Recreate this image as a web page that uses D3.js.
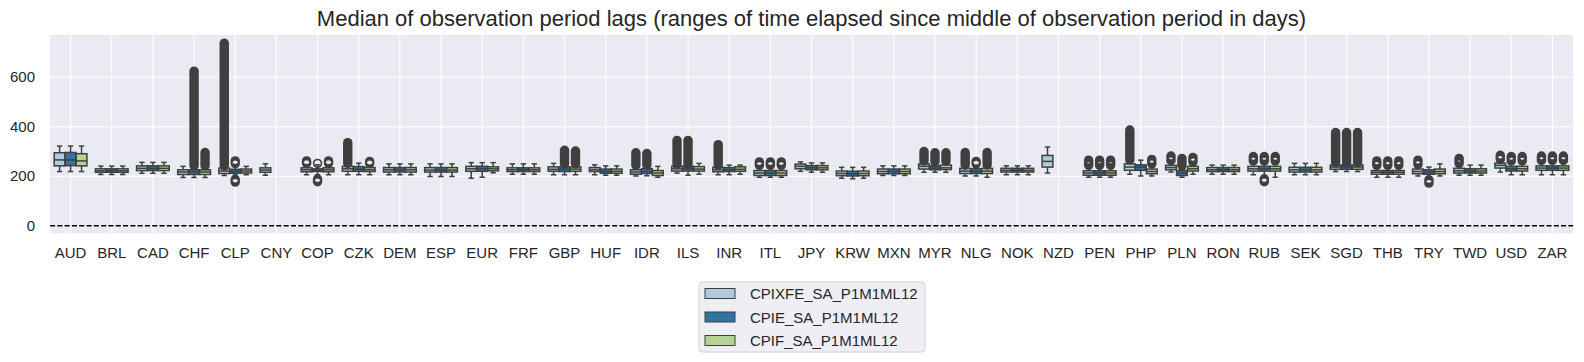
<!DOCTYPE html>
<html>
<head>
<meta charset="utf-8">
<script src="https://cdn.jsdelivr.net/npm/d3@7"></script>
<style>
  body { margin: 0; background: #fff; }
  text { font-family: "Liberation Sans", Arial, sans-serif; fill: #262626; }
</style>
</head>
<body>
<svg id="chart" width="1584" height="362"></svg>
<script>
const categories = ['AUD','BRL','CAD','CHF','CLP','CNY','COP','CZK','DEM','ESP','EUR','FRF','GBP','HUF','IDR','ILS','INR','ITL','JPY','KRW','MXN','MYR','NLG','NOK','NZD','PEN','PHP','PLN','RON','RUB','SEK','SGD','THB','TRY','TWD','USD','ZAR'];
const seriesNames = ['CPIXFE_SA_P1M1ML12', 'CPIE_SA_P1M1ML12', 'CPIF_SA_P1M1ML12'];
const seriesColors = ['#aeccdb', '#3274a1', '#b3d495'];
const yTicks = [0, 200, 400, 600];

// [low whisker, q1, median, q3, high whisker] per category, null = no data
const cpixfeBoxes = [
  [219,242,266,295,322], [207,216,222,230,241], [212,223,232,242,256], [195,207,217,226,240],
  [203,211,221,233,240], [204,216,225,234,250], [206,218,226,234,246], [206,220,230,240,250],
  [206,217,226,235,250], [199,217,225,235,250], [192,220,230,240,255], [208,219,226,234,250],
  [206,220,228,238,252], [206,219,226,235,246], [201,208,217,226,238], [213,221,230,240,246],
  [206,218,226,236,244], [196,203,213,223,238], [220,230,240,249,258], [192,202,211,221,236],
  [203,210,219,229,242], [216,229,240,250,258], [201,211,221,232,240], [206,217,224,232,242],
  [213,237,260,284,318], [196,204,213,222,236], [208,224,237,250,262], [217,226,235,244,256],
  [208,219,226,235,245], [206,221,230,240,252], [206,217,226,236,252], [219,228,237,245,252],
  [196,208,216,223,238], [201,210,219,229,240], [204,213,222,232,243], [217,233,244,253,262],
  [206,224,233,242,255]
];
const cpieBoxes = [
  [219,243,266,296,322], [207,216,222,230,241], [212,223,232,242,256], [195,207,217,226,240],
  [205,212,220,228,242], null, [206,219,224,230,246], [206,220,229,239,253],
  [206,217,226,235,250], [199,217,225,235,250], [196,220,230,240,255], [208,219,226,234,250],
  [206,219,228,238,245], [204,212,220,229,242], [202,211,219,231,240], [204,221,230,240,246],
  [206,219,226,235,245], [196,203,213,223,238], [216,226,234,243,254], [190,201,210,220,236],
  [203,210,219,229,242], [216,226,233,242,252], [201,211,220,230,242], [206,217,224,232,242],
  null, [196,204,213,222,236], [201,224,237,246,265], [196,203,213,223,236],
  [208,219,226,235,245], [200,221,230,240,252], [206,217,226,236,252], [219,228,237,245,252],
  [196,208,216,223,238], [198,208,217,226,237], [204,213,221,230,245], [206,221,230,240,252],
  [206,224,233,242,255]
];
const cpifBoxes = [
  [219,242,262,291,322], [207,216,222,230,241], [212,223,232,242,256], [195,207,217,226,240],
  [206,213,221,229,240], null, [206,218,226,234,246], [206,219,226,235,245],
  [206,217,226,235,250], [199,217,225,235,250], [214,222,230,238,255], [208,219,226,234,250],
  [206,220,229,238,245], [204,212,220,229,242], [196,203,213,223,240], [208,221,229,239,252],
  [208,220,228,238,245], [196,203,213,223,238], [216,226,234,243,254], [192,202,211,221,236],
  [203,210,219,229,242], [216,227,234,245,255], [196,211,221,232,240], [206,217,224,232,242],
  null, [196,204,213,222,236], [201,210,219,229,242], [208,221,230,240,250],
  [208,219,226,235,245], [196,221,230,240,252], [206,217,226,236,252], [219,228,237,245,252],
  [196,208,216,223,238], [201,210,219,229,250], [204,213,221,230,245], [206,221,230,240,252],
  [206,224,233,242,255]
];

// isolated single outliers
const cpixfeOutliers = {};
const cpieOutliers = {COP: [252]};
const cpifOutliers = {};

// dense clusters of outliers, [lowest, highest] per cluster
const cpixfeOutlierRuns = {
  CLP: [[242,738]], CZK: [[252,336]], IDR: [[244,295]], ILS: [[248,345]], INR: [[245,328]],
  MYR: [[262,300]], NLG: [[245,296]], PHP: [[266,387]], SGD: [[255,377]], COP: [[252,262]],
  ITL: [[244,258]], PEN: [[244,265]], PLN: [[263,282]], RUB: [[262,280]], THB: [[244,262]],
  TRY: [[247,265]], TWD: [[251,272]], USD: [[268,285]], ZAR: [[264,282]]
};
const cpieOutlierRuns = {
  CHF: [[242,625]], GBP: [[250,305]], IDR: [[245,292]], ILS: [[248,345]], MYR: [[258,295]],
  SGD: [[255,377]], CLP: [[251,262],[176,187]], COP: [[178,189]], ITL: [[244,258]],
  NLG: [[250,260]], PEN: [[244,265]], PLN: [[242,272]], RUB: [[262,280],[178,190]],
  THB: [[244,262]], TRY: [[172,186]], USD: [[262,280]], ZAR: [[264,282]]
};
const cpifOutlierRuns = {
  CHF: [[242,296]], GBP: [[250,302]], MYR: [[260,295]], NLG: [[245,296]], SGD: [[255,377]],
  CZK: [[251,260]], COP: [[252,262]], ITL: [[244,258]], PEN: [[244,265]], PHP: [[250,268]],
  PLN: [[258,276]], RUB: [[262,280]], THB: [[244,262]], USD: [[262,280]], ZAR: [[264,282]]
};

const boxes = [cpixfeBoxes, cpieBoxes, cpifBoxes];
const outliers = [cpixfeOutliers, cpieOutliers, cpifOutliers];
const runs = [cpixfeOutlierRuns, cpieOutlierRuns, cpifOutlierRuns];

const lineColor = '#3f3f3f';
const bgColor = '#eaeaf2';
const plot = {left: 50, right: 1573, top: 35, bottom: 233.3};
const markerR = 3.9;
const markerStroke = 1.6;
const rIn = markerR - markerStroke / 2;
const rOut = markerR + markerStroke / 2;

const svg = d3.select('#chart');

const x = d3.scaleBand().domain(categories).range([plot.left, plot.right]);
const y = d3.scaleLinear().domain([-30.7, 771]).range([plot.bottom, plot.top]);
const hue = d3.scaleBand().domain(seriesNames).range([0, x.bandwidth() * 0.8]);
const boxW = hue.bandwidth() * 0.98;

svg.append('rect')
  .attr('x', plot.left).attr('y', plot.top)
  .attr('width', plot.right - plot.left).attr('height', plot.bottom - plot.top)
  .attr('fill', bgColor);

// grid
svg.append('g')
  .selectAll('line')
  .data(yTicks)
  .enter().append('line')
  .attr('x1', plot.left).attr('x2', plot.right)
  .attr('y1', (d) => y(d)).attr('y2', (d) => y(d))
  .attr('stroke', '#fff').attr('stroke-width', 1.1);

svg.append('g')
  .selectAll('line')
  .data(categories)
  .enter().append('line')
  .attr('x1', (d) => x(d) + x.bandwidth() / 2).attr('x2', (d) => x(d) + x.bandwidth() / 2)
  .attr('y1', plot.top).attr('y2', plot.bottom)
  .attr('stroke', '#fff').attr('stroke-width', 1.1);

// tick labels
svg.append('g')
  .selectAll('text')
  .data(yTicks)
  .enter().append('text')
  .attr('x', 35).attr('y', (d) => y(d) + 5)
  .attr('text-anchor', 'end')
  .style('font-size', '15px')
  .text((d) => d);

svg.append('g')
  .selectAll('text')
  .data(categories)
  .enter().append('text')
  .attr('x', (d) => x(d) + x.bandwidth() / 2).attr('y', 258)
  .attr('text-anchor', 'middle')
  .style('font-size', '15px')
  .text((d) => d);

// boxes
const marks = svg.append('g');
seriesNames.forEach((name, s) => {
  categories.forEach((cat, i) => {
    const d = boxes[s][i];
    if (!d) return;
    const cx = x(cat) + x.bandwidth() * 0.1 + hue(name) + hue.bandwidth() / 2;
    const g = marks.append('g');

    g.append('line')
      .attr('x1', cx).attr('x2', cx).attr('y1', y(d[0])).attr('y2', y(d[1]))
      .attr('stroke', lineColor).attr('stroke-width', 1.5);
    g.append('line')
      .attr('x1', cx).attr('x2', cx).attr('y1', y(d[3])).attr('y2', y(d[4]))
      .attr('stroke', lineColor).attr('stroke-width', 1.5);
    [d[0], d[4]].forEach((v) => {
      g.append('line')
        .attr('x1', cx - boxW / 4).attr('x2', cx + boxW / 4)
        .attr('y1', y(v)).attr('y2', y(v))
        .attr('stroke', lineColor).attr('stroke-width', 1.5);
    });
    g.append('rect')
      .attr('x', cx - boxW / 2).attr('y', y(d[3]))
      .attr('width', boxW).attr('height', y(d[1]) - y(d[3]))
      .attr('fill', seriesColors[s])
      .attr('stroke', lineColor).attr('stroke-width', 1.5);
    g.append('line')
      .attr('x1', cx - boxW / 2).attr('x2', cx + boxW / 2)
      .attr('y1', y(d[2])).attr('y2', y(d[2]))
      .attr('stroke', lineColor).attr('stroke-width', 1.5);

    (runs[s][cat] || []).forEach((run) => {
      const yTop = y(run[1]);
      const yBot = y(run[0]);
      g.append('line')
        .attr('x1', cx).attr('x2', cx).attr('y1', yTop).attr('y2', yBot)
        .attr('stroke', lineColor).attr('stroke-width', rOut * 2)
        .attr('stroke-linecap', 'round');
      // hollow left where the end markers' insides overlap
      const half = (yBot - yTop) / 2;
      if (half < rIn) {
        const w = Math.sqrt(rIn * rIn - half * half);
        const ym = yTop + half;
        g.append('path')
          .attr('d', `M${cx - w},${ym}A${rIn},${rIn} 0 0 1 ${cx + w},${ym}A${rIn},${rIn} 0 0 1 ${cx - w},${ym}Z`)
          .attr('fill', bgColor);
      }
    });
    g.selectAll('circle')
      .data(outliers[s][cat] || [])
      .enter().append('circle')
      .attr('cx', cx).attr('cy', (v) => y(v)).attr('r', markerR)
      .attr('fill', 'none')
      .attr('stroke', lineColor).attr('stroke-width', markerStroke);
  });
});

// zero line
svg.append('line')
  .attr('x1', plot.left).attr('x2', plot.right)
  .attr('y1', y(0)).attr('y2', y(0))
  .attr('stroke', '#000').attr('stroke-width', 1.4)
  .attr('stroke-dasharray', '5.1,2.2');

svg.append('text')
  .attr('x', (plot.left + plot.right) / 2).attr('y', 26)
  .attr('text-anchor', 'middle')
  .style('font-size', '22px')
  .text('Median of observation period lags (ranges of time elapsed since middle of observation period in days)');

// legend
const legend = svg.append('g').attr('transform', 'translate(699,282)');
legend.append('rect')
  .attr('width', 226).attr('height', 70).attr('rx', 3)
  .attr('fill', '#eeeef4').attr('stroke', '#d3d3d8').attr('stroke-width', 1);
seriesNames.forEach((name, s) => {
  legend.append('rect')
    .attr('x', 6).attr('y', 6.5 + s * 23.5)
    .attr('width', 30).attr('height', 10)
    .attr('fill', seriesColors[s])
    .attr('stroke', lineColor).attr('stroke-width', 1);
  legend.append('text')
    .attr('x', 51).attr('y', 17 + s * 23.5)
    .style('font-size', '15px')
    .text(name);
});
</script>
</body>
</html>
